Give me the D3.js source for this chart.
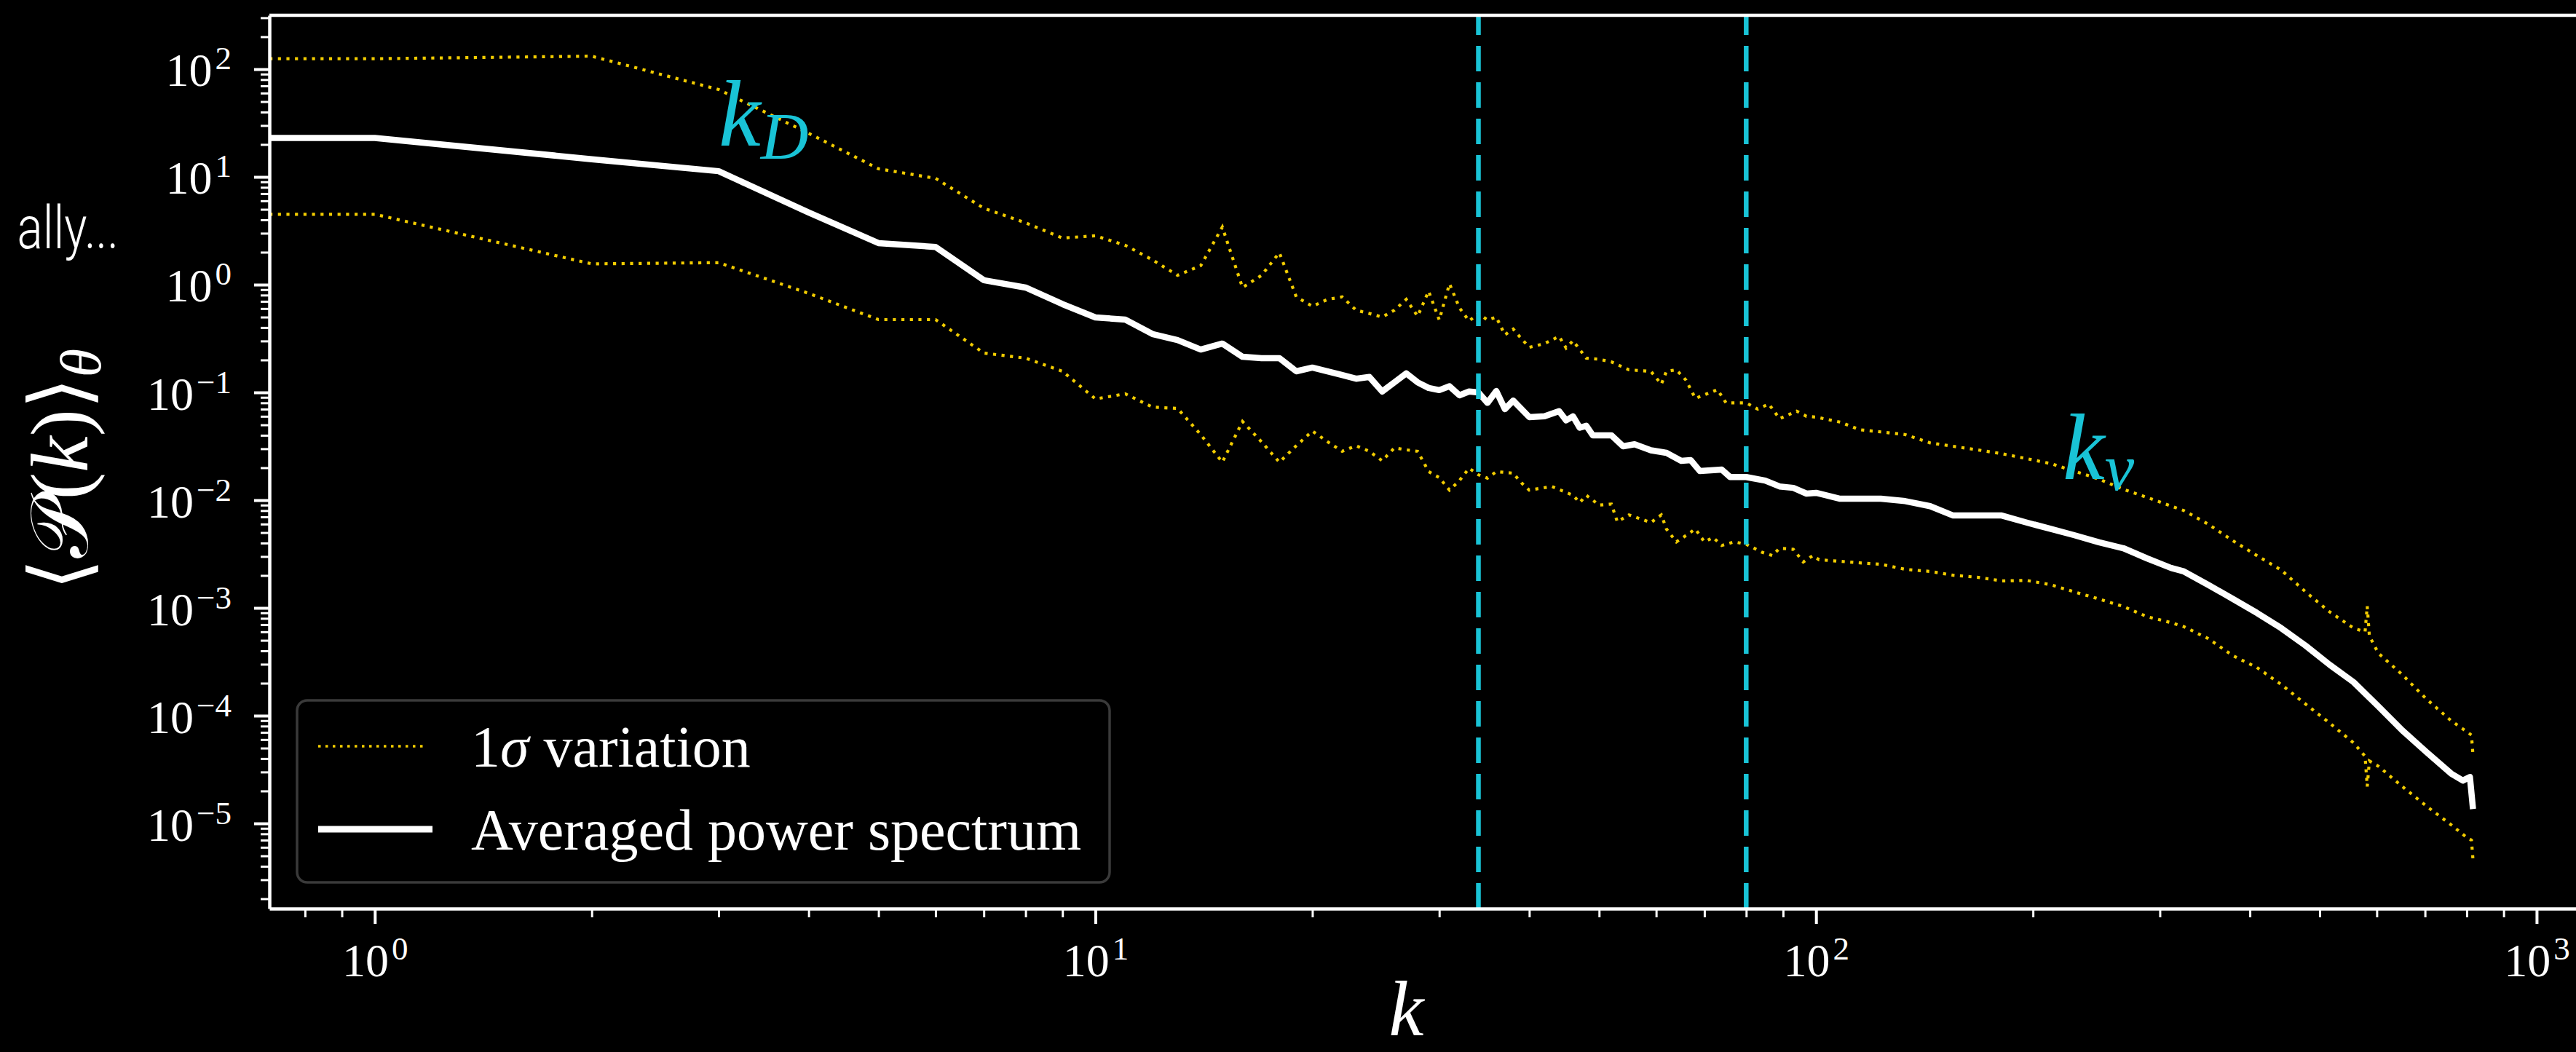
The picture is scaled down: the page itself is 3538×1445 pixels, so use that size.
<!DOCTYPE html>
<html>
<head>
<meta charset="utf-8">
<script src="https://cdnjs.cloudflare.com/ajax/libs/d3/7.8.5/d3.min.js"></script>
<style>
  body { margin: 0; background: #000; }
  svg { display: block; }
  .serif { font-family: "Liberation Serif", "DejaVu Serif", serif; fill: #fff; }
</style>
</head>
<body>
<div id="chart"></div>
<script>
// averaged power spectrum (white)
let kMean = [0.714, 1, 2, 3, 4, 5, 6, 7, 8, 9, 10, 11, 12, 13, 14, 15, 16, 17, 18, 19,
  20, 21, 22, 23, 24, 25, 26, 27, 28, 29, 30, 31, 32, 33, 34, 35, 36, 37, 38, 40,
  42, 44, 45, 46, 47, 48, 49, 52, 54, 56, 59, 62, 65, 67, 69, 74, 76, 80, 85, 89,
  93, 97, 100, 108, 123, 133, 144, 155, 168, 181, 196, 212, 228, 247, 267, 288, 311, 324,
  350, 379, 409, 442, 478, 516, 557, 603, 651, 703, 761, 790, 808, 816];
let pMean = [23, 23, 14.6, 11.3, 4.67, 2.43, 2.24, 1.10, 0.94, 0.66, 0.497, 0.474, 0.348, 0.306, 0.25, 0.284, 0.214, 0.208, 0.208, 0.157,
  0.170, 0.157, 0.145, 0.134, 0.139, 0.102, 0.124, 0.150, 0.124, 0.110, 0.105, 0.114, 0.094, 0.102, 0.100, 0.080, 0.103, 0.070, 0.084, 0.059,
  0.060, 0.067, 0.055, 0.060, 0.047, 0.049, 0.040, 0.040, 0.0316, 0.033, 0.029, 0.0275, 0.0232, 0.0235, 0.0186, 0.0192, 0.0164, 0.0164, 0.0152, 0.0134,
  0.013, 0.0115, 0.0117, 0.0103, 0.0103, 0.0098, 0.0088, 0.0072, 0.0072, 0.0072, 0.0062, 0.0054, 0.00474, 0.00406, 0.00358, 0.00288, 0.00235, 0.00218,
  0.00164, 0.00121, 0.00090, 0.00065, 0.000446, 0.000297, 0.000205, 0.000122, 7.3e-5, 4.6e-5, 2.9e-5, 2.5e-5, 2.7e-5, 1.36e-5];

// upper 1 sigma (dotted gold)
let kUpper = [0.714, 1, 2, 3, 4, 5, 6, 7, 8, 9, 10, 11, 12, 13, 14, 15, 16, 17, 18, 19,
  20, 21, 22, 23, 24, 25, 26, 27, 28, 29, 30, 31, 32, 33, 34, 35, 36, 37, 38, 39,
  40, 42, 44, 45, 46, 48, 50, 52, 55, 59, 61, 62, 64, 66, 68, 73, 75, 80, 83, 86,
  89, 94, 97, 100, 108, 115, 123, 133, 144, 155, 168, 181, 196, 212, 228, 247, 267, 288, 324, 350,
  379, 409, 442, 478, 516, 557, 578, 582, 586, 603, 651, 703, 761, 800, 812, 816];
let pUpper = [125, 125, 132, 64.7, 25.4, 11.9, 9.7, 5.12, 3.75, 2.71, 2.84, 2.32, 1.70, 1.22, 1.50, 3.42, 0.94, 1.22, 1.98, 0.77,
  0.63, 0.73, 0.77, 0.58, 0.54, 0.50, 0.58, 0.73, 0.51, 0.87, 0.47, 1.02, 0.61, 0.46, 0.54, 0.47, 0.50, 0.342, 0.387, 0.316,
  0.262, 0.284, 0.331, 0.258, 0.302, 0.208, 0.203, 0.192, 0.162, 0.157, 0.119, 0.157, 0.162, 0.130, 0.088, 0.106, 0.080, 0.080, 0.070, 0.078,
  0.057, 0.067, 0.060, 0.059, 0.053, 0.045, 0.043, 0.0406, 0.034, 0.0316, 0.0292, 0.027, 0.0243, 0.0218, 0.0186, 0.0157, 0.0126, 0.0106, 0.0080, 0.0060,
  0.0042, 0.00306, 0.00225, 0.00141, 0.00092, 0.00065, 0.00060, 0.00104, 0.00055, 0.00038, 0.00024, 0.000143, 8.97e-5, 7.1e-5, 6.6e-5, 4.3e-5];

// lower 1 sigma (dotted gold)
let kLower = [0.714, 1, 2, 3, 4, 5, 6, 7, 8, 9, 10, 11, 12, 13, 14, 15, 16, 17, 18, 19,
  20, 21, 22, 23, 24, 25, 26, 27, 28, 29, 30, 31, 32, 33, 34, 35, 36, 38, 39, 40,
  43, 46, 47, 48, 50, 52, 53, 55, 59, 61, 62, 64, 66, 68, 70, 72, 74, 77, 80, 84,
  87, 89, 93, 96, 99, 101, 115, 123, 133, 144, 155, 168, 181, 196, 212, 228, 247, 267, 288, 311,
  324, 350, 379, 409, 442, 478, 516, 557, 578, 582, 586, 603, 651, 703, 761, 800, 812, 816];
let pLower = [4.5, 4.5, 1.56, 1.60, 0.83, 0.474, 0.474, 0.232, 0.208, 0.157, 0.087, 0.097, 0.073, 0.071, 0.0406, 0.0225, 0.0537, 0.0348, 0.0225, 0.032,
  0.0438, 0.0348, 0.0284, 0.032, 0.0284, 0.0232, 0.0306, 0.0293, 0.0284, 0.0184, 0.0162, 0.0124, 0.0152, 0.0198, 0.0172, 0.016, 0.0184, 0.0178, 0.0145, 0.0124,
  0.0134, 0.0111, 0.0095, 0.0111, 0.0090, 0.0092, 0.0063, 0.0073, 0.0062, 0.0073, 0.0054, 0.0041, 0.0047, 0.0054, 0.0041, 0.0045, 0.0038, 0.0041, 0.0039, 0.0033,
  0.00306, 0.00358, 0.0035, 0.00267, 0.00306, 0.0028, 0.00262, 0.00254, 0.00228, 0.00218, 0.00201, 0.00192, 0.00178, 0.0018, 0.00164, 0.00141, 0.00121, 0.00103, 0.00083, 0.00073,
  0.00067, 0.00052, 0.00036, 0.00028, 0.000195, 0.000128, 8.55e-5, 5.6e-5, 4.2e-5, 2.2e-5, 3.8e-5, 3.4e-5, 2.2e-5, 1.45e-5, 9.7e-6, 7.4e-6, 7.0e-6, 4.6e-6];

// characteristic wavenumbers (dashed cyan)
let kMarks = [34, 80];

// tick exponents
let xTickExp = [0, 1, 2, 3];
let yTickExp = [-5, -4, -3, -2, -1, 0, 1, 2];

let svgWidth = 3538;
let svgHeight = 1445;

let margin = {
  top: 21,
  right: -6,
  bottom: 197,
  left: 370
};

let width = svgWidth - margin.left - margin.right;
let height = svgHeight - margin.top - margin.bottom;

let gold = "#f2cc00";
let cyan = "#19c3d6";

let svg = d3.select("#chart")
  .append("svg")
  .attr("width", svgWidth)
  .attr("height", svgHeight)
  .style("background", "#000");

let chartGroup = svg.append("g")
  .attr("transform", `translate(${margin.left}, ${margin.top})`);

let xScale = d3.scaleLog().domain([0.714, 1150]).range([0, width]);
let yScale = d3.scaleLog().domain([1.62e-6, 316.2]).range([height, 0]);

// minor tick positions
let xMinor = [];
[0.1, 1, 10, 100].forEach(d => d3.range(2, 10).forEach(m => {
  let v = d * m;
  if (v > 0.714 && v < 1150) xMinor.push(v);
}));
let yMinor = [];
d3.range(-6, 3).forEach(e => d3.range(2, 10).forEach(m => {
  let v = m * Math.pow(10, e);
  if (v > 1.62e-6 && v < 316.2) yMinor.push(v);
}));

svg.append("clipPath").attr("id", "plotclip")
  .append("rect").attr("x", 0).attr("y", 0).attr("width", width).attr("height", height);

let plot = chartGroup.append("g").attr("clip-path", "url(#plotclip)");

let line = d3.line()
  .x(d => xScale(d[0]))
  .y(d => yScale(d[1]));

plot.append("path")
  .datum(d3.zip(kUpper, pUpper))
  .attr("d", line)
  .attr("fill", "none")
  .attr("stroke", gold)
  .attr("stroke-width", 4.2)
  .attr("stroke-dasharray", "4.2,7.5");

plot.append("path")
  .datum(d3.zip(kLower, pLower))
  .attr("d", line)
  .attr("fill", "none")
  .attr("stroke", gold)
  .attr("stroke-width", 4.2)
  .attr("stroke-dasharray", "4.2,7.5");

plot.append("path")
  .datum(d3.zip(kMean, pMean))
  .attr("d", line)
  .attr("fill", "none")
  .attr("stroke", "#fff")
  .attr("stroke-width", 8.5)
  .attr("stroke-linejoin", "round");

// dashed vertical lines, drawn bottom to top like axvline
plot.selectAll(".kmark")
  .data(kMarks)
  .enter()
  .append("line")
  .attr("x1", d => xScale(d))
  .attr("x2", d => xScale(d))
  .attr("y1", height)
  .attr("y2", 0)
  .attr("stroke", cyan)
  .attr("stroke-width", 6.5)
  .attr("stroke-dasharray", "35,15");

// axes
let xAxis = chartGroup.append("g")
  .attr("transform", `translate(0, ${height})`)
  .call(d3.axisBottom(xScale).tickValues(xTickExp.map(e => Math.pow(10, e)))
    .tickSize(21).tickSizeOuter(0).tickFormat(""));
chartGroup.append("g")
  .attr("transform", `translate(0, ${height})`)
  .call(d3.axisBottom(xScale).tickValues(xMinor).tickSize(12).tickSizeOuter(0).tickFormat(""))
  .call(g => g.select(".domain").remove())
  .selectAll("line").attr("stroke", "#fff").attr("stroke-width", 3);

let yAxis = chartGroup.append("g")
  .call(d3.axisLeft(yScale).tickValues(yTickExp.map(e => Math.pow(10, e)))
    .tickSize(21).tickSizeOuter(0).tickFormat(""));
chartGroup.append("g")
  .call(d3.axisLeft(yScale).tickValues(yMinor).tickSize(12).tickSizeOuter(0).tickFormat(""))
  .call(g => g.select(".domain").remove())
  .selectAll("line").attr("stroke", "#fff").attr("stroke-width", 3);

[xAxis, yAxis].forEach(ax => {
  ax.select(".domain").attr("stroke", "#fff").attr("stroke-width", 4.5);
  ax.selectAll(".tick line").attr("stroke", "#fff").attr("stroke-width", 4);
  ax.selectAll(".tick text").remove();
});

// top spine
chartGroup.append("line")
  .attr("x1", 0).attr("x2", width)
  .attr("y1", 0).attr("y2", 0)
  .attr("stroke", "#fff").attr("stroke-width", 4.5);

function powLabel(sel, e) {
  sel.append("tspan").text("10");
  sel.append("tspan")
    .attr("dx", 4)
    .attr("dy", -23)
    .attr("font-size", 45)
    .text(e < 0 ? "\u2212" + (-e) : String(e));
}

xAxis.selectAll(".tick")
  .data(xTickExp)
  .append("text")
  .attr("class", "serif")
  .attr("y", 93)
  .attr("text-anchor", "middle")
  .attr("font-size", 64)
  .each(function(e) { powLabel(d3.select(this), e); });

yAxis.selectAll(".tick")
  .data(yTickExp)
  .append("text")
  .attr("class", "serif")
  .attr("x", -52)
  .attr("y", 23)
  .attr("text-anchor", "end")
  .attr("font-size", 64)
  .each(function(e) { powLabel(d3.select(this), e); });

// axis labels
svg.append("text")
  .attr("class", "serif")
  .attr("x", margin.left + xScale(27))
  .attr("y", 1422)
  .attr("text-anchor", "middle")
  .attr("font-size", 108)
  .attr("font-style", "italic")
  .text("k");

let yLabel = svg.append("text")
  .attr("class", "serif")
  .attr("transform", `translate(120, 645) rotate(-90)`)
  .attr("text-anchor", "middle")
  .attr("font-size", 112);
yLabel.append("tspan").text("\u27E8");
yLabel.append("tspan").text("\uD835\uDCAB");
yLabel.append("tspan").text("(");
yLabel.append("tspan").attr("font-style", "italic").text("k");
yLabel.append("tspan").text(")\u27E9");
yLabel.append("tspan").attr("font-style", "italic").attr("font-size", 80).attr("dy", 18).text("\u03B8");

// k_D and k_nu annotations
function subLabel(kPos, pPos, main, sub, subDy) {
  let t = chartGroup.append("text")
    .attr("class", "serif")
    .attr("x", xScale(kPos))
    .attr("y", yScale(pPos))
    .attr("font-size", 130)
    .attr("font-style", "italic")
    .style("fill", cyan);
  t.append("tspan").text(main);
  t.append("tspan").attr("font-size", 91).attr("dy", subDy).text(sub);
}
subLabel(3.0, 19.5, "k", "D", 18);
subLabel(220, 0.0157, "k", "\u03BD", 15);

// legend
let legend = svg.append("g");
legend.append("rect")
  .attr("x", 408).attr("y", 962)
  .attr("width", 1116).attr("height", 250)
  .attr("rx", 14)
  .attr("fill", "#000")
  .attr("stroke", "#3a3a3a")
  .attr("stroke-width", 3.5);
legend.append("line")
  .attr("x1", 437).attr("x2", 582).attr("y1", 1025).attr("y2", 1025)
  .attr("stroke", gold).attr("stroke-width", 3.5).attr("stroke-dasharray", "3.5,6.5");
legend.append("line")
  .attr("x1", 437).attr("x2", 594).attr("y1", 1139).attr("y2", 1139)
  .attr("stroke", "#fff").attr("stroke-width", 9);
let l1 = legend.append("text")
  .attr("class", "serif")
  .attr("x", 647).attr("y", 1053)
  .attr("font-size", 80);
l1.append("tspan").text("1");
l1.append("tspan").attr("font-style", "italic").text("\u03C3");
l1.append("tspan").text(" variation");
legend.append("text")
  .attr("class", "serif")
  .attr("x", 647).attr("y", 1167)
  .attr("font-size", 80)
  .text("Averaged power spectrum");

// slide text cut at the left edge (narrow, light face)
svg.append("text")
  .attr("transform", "translate(163, 341) scale(0.8, 1)")
  .attr("text-anchor", "end")
  .attr("font-family", "Roboto, sans-serif")
  .attr("font-weight", 300)
  .attr("font-size", 82)
  .attr("fill", "#fff")
  .text("ally...");
</script>
</body>
</html>
